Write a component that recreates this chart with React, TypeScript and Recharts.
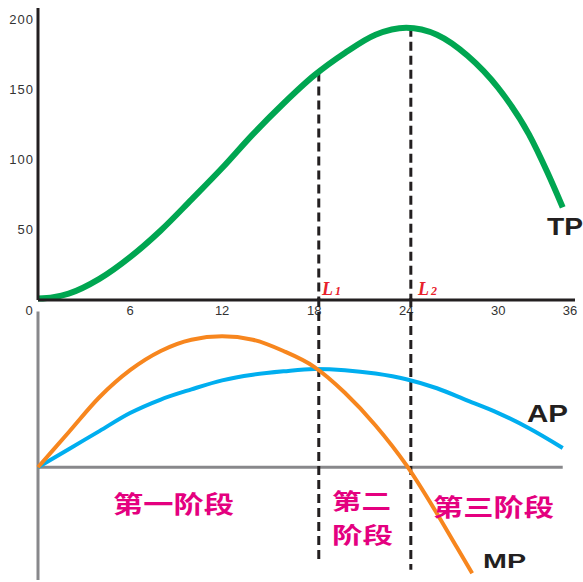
import React from 'react';
import { ComposedChart, Line, XAxis, YAxis, ReferenceLine } from 'recharts';

// labour input (L) and the three product curves
const tpLabor = [0, 1, 2, 4, 6, 8, 10, 12, 14, 16, 18, 20, 22, 24, 26, 28, 30, 32, 33.2, 34.2];
const tpValues = [1, 2, 4.5, 15, 30.5, 49.5, 71.5, 94, 118, 140, 160, 176, 189, 194, 189, 174, 151, 118, 91, 66];

const apLabor = [0, 2, 4, 6, 8, 10, 12, 14, 16, 18, 20, 22, 24, 26, 28, 30, 32, 34.2];
const apValues = [0, 1.6, 3.2, 4.8, 6.0, 6.9, 7.7, 8.2, 8.5, 8.7, 8.6, 8.3, 7.8, 7.0, 5.9, 4.8, 3.45, 1.7];

const mpLabor = [0, 2, 4, 6, 8, 10, 12, 14, 16, 18, 20, 22, 24, 26, 27.3, 28.3];
const mpValues = [0, 3.1, 6.2, 8.6, 10.3, 11.3, 11.6, 11.3, 10.3, 8.9, 6.6, 3.7, 0.2, -4.1, -7.1, -9.4];

const xTicks = [0, 6, 12, 18, 24, 30];
const lastXTick = '36';
const tpTicks = [50, 100, 150, 200];

// L1 and L2: boundaries of the three stages
const stageBounds = [18.3, 24.3];
const stageTP = [162, 194];
const stageLow = [-8.5, -9.1];
const stageNames = ['第一阶段', '第二阶段', '第三阶段'];

const tpData = tpLabor.map((l, i) => ({ l, tp: tpValues[i] }));
const apData = apLabor.map((l, i) => ({ l, ap: apValues[i] }));
const mpData = mpLabor.map((l, i) => ({ l, mp: mpValues[i] }));

const SANS = '"Liberation Sans", Arial, sans-serif';
const CJK = '"Noto Sans CJK SC", sans-serif';
const INK = '#231f20';
const PINK = '#e4007f';
const GREY = '#88888b';

const XTick = (props: any) => {
  const { x, y, payload } = props;
  const dx = payload.value === 0 ? -9 : 0;
  return (
    <text x={x + dx} y={y} dy="0.71em" textAnchor="middle" fontFamily={SANS} fontSize={13} fill="#333">
      {payload.value}
    </text>
  );
};

const EndTick = (props: any) => {
  const vb = props.viewBox || { x: 38, y: 300, width: 537 };
  return (
    <text x={vb.x + vb.width - 5} y={vb.y + 6} dy="0.71em" textAnchor="middle" fontFamily={SANS} fontSize={13} fill="#333">
      {lastXTick}
    </text>
  );
};

const dashed = { stroke: INK, strokeWidth: 3, strokeDasharray: '9 5' };

export default function App() {
  return (
    <div style={{ position: 'absolute', left: 0, top: 0, width: 583, height: 582, background: '#fff' }}>
      <div style={{ position: 'absolute', left: 0, top: 0 }}>
        <ComposedChart width={583} height={330} margin={{ top: 8, right: 8, bottom: 0, left: 0 }}>
          <XAxis
            type="number"
            dataKey="l"
            domain={[0, 35]}
            ticks={xTicks}
            interval={0}
            height={30}
            axisLine={{ stroke: INK, strokeWidth: 3 }}
            tickLine={false}
            tickMargin={0}
            tick={<XTick />}
            label={<EndTick />}
          />
          <YAxis
            type="number"
            domain={[0, 208]}
            ticks={tpTicks}
            interval={0}
            width={38}
            axisLine={{ stroke: INK, strokeWidth: 3 }}
            tickLine={false}
            tickSize={4}
            tickMargin={0}
            tick={{ fontFamily: SANS, fontSize: 13, fill: '#333', letterSpacing: 1 }}
          />
          {stageBounds.map((b, i) => (
            <ReferenceLine key={b} segment={[{ x: b, y: stageTP[i] }, { x: b, y: 0 }]} {...dashed} />
          ))}
          <Line data={tpData} dataKey="tp" type="monotone" stroke="#00a651" strokeWidth={6} dot={false} isAnimationActive={false} />
        </ComposedChart>
      </div>

      <div style={{ position: 'absolute', left: 0, top: 298 }}>
        <ComposedChart width={583} height={282} margin={{ top: 0, right: 8, bottom: 0, left: 38 }}>
          <XAxis type="number" dataKey="l" domain={[0, 35]} hide height={0} />
          <YAxis type="number" domain={[-10, 15]} hide width={0} />
          <ReferenceLine segment={[{ x: 0, y: 0 }, { x: apLabor[apLabor.length - 1], y: 0 }]} stroke={GREY} strokeWidth={3} />
          <ReferenceLine segment={[{ x: 0, y: -10 }, { x: 0, y: 13.8 }]} stroke={GREY} strokeWidth={3} />
          {stageBounds.map((b, i) => (
            <ReferenceLine key={b} segment={[{ x: b, y: 15 }, { x: b, y: stageLow[i] }]} {...dashed} />
          ))}
          <Line data={apData} dataKey="ap" type="monotone" stroke="#00aeef" strokeWidth={4} dot={false} isAnimationActive={false} />
          <Line data={mpData} dataKey="mp" type="monotone" stroke="#f7861e" strokeWidth={4} dot={false} isAnimationActive={false} />
        </ComposedChart>
      </div>

      <svg width={583} height={582} style={{ position: 'absolute', left: 0, top: 0, pointerEvents: 'none' }}>
        <g fontFamily={SANS} fontWeight="bold" fill={INK}>
          <text x={547} y={235} fontSize={23} textLength={36} lengthAdjust="spacingAndGlyphs">TP</text>
          <text x={527} y={422} fontSize={23} textLength={41} lengthAdjust="spacingAndGlyphs">AP</text>
          <text x={483} y={568} fontSize={21} textLength={43} lengthAdjust="spacingAndGlyphs">MP</text>
        </g>
        <g fontFamily='"Liberation Serif", "Times New Roman", serif' fontStyle="italic" fontWeight="bold" fill="#e8212b">
          <text x={322} y={295} fontSize={18}>L<tspan fontSize={12} dx={2}>1</tspan></text>
          <text x={418} y={295} fontSize={18}>L<tspan fontSize={12} dx={2}>2</tspan></text>
        </g>
        <g fontFamily={CJK} fontWeight="bold" fill={PINK} fontSize={24}>
          <text x={113} y={513} textLength={121} lengthAdjust="spacingAndGlyphs">{stageNames[0]}</text>
          <text x={332} y={509} fontSize={22} textLength={59} lengthAdjust="spacingAndGlyphs">{stageNames[1].slice(0, 2)}</text>
          <text x={332} y={543} fontSize={22} textLength={61} lengthAdjust="spacingAndGlyphs">{stageNames[1].slice(2)}</text>
          <text x={433} y={515.5} textLength={121} lengthAdjust="spacingAndGlyphs">{stageNames[2]}</text>
        </g>
      </svg>
    </div>
  );
}
